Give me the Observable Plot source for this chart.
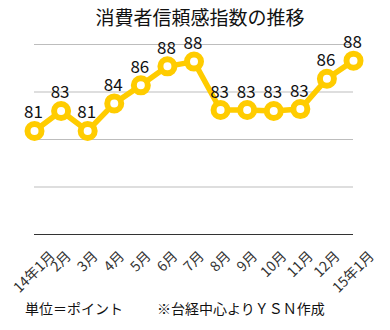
<!DOCTYPE html>
<html>
<head>
<meta charset="utf-8">
<script src="https://cdn.jsdelivr.net/npm/d3@7"></script>
<script src="https://cdn.jsdelivr.net/npm/@observablehq/plot@0.6"></script>
<style>
  body { margin: 0; background: #fff; }
  #wrap { position: relative; width: 390px; height: 330px; overflow: hidden; font-family: "Noto Sans CJK JP", "Noto Sans", sans-serif; }
  #title { height: 34px; line-height: 34px; font-size: 19px; text-align: center; padding-left: 10px; box-sizing: border-box; color: #111; }
  .cap { position: absolute; top: 299px; font-size: 14px; line-height: 18px; color: #111; white-space: nowrap; }
</style>
</head>
<body>
<div id="wrap">
  <div id="title">消費者信頼感指数の推移</div>
  <div id="chart"></div>
  <div class="cap" style="left:25px">単位＝ポイント</div>
  <div class="cap" style="left:157px">※台経中心よりＹＳＮ作成</div>
</div>
<script>
const months = ["14年1月","2月","3月","4月","5月","6月","7月","8月","9月","10月","11月","12月","15年1月"];
const values = [80.9, 83.0, 80.9, 83.8, 85.7, 87.7, 88.2, 83.1, 83.1, 83.0, 83.2, 86.4, 88.3];
const gridValues = [75, 80, 85, 90];
const baseValue = 70;

const data = months.map((m, i) => ({i, month: m, value: values[i], label: d3.format(".0f")(values[i])}));

const fontFamily = '"Noto Sans CJK JP", "Noto Sans", sans-serif';
const tickFont = 14;
const ctx = document.createElement("canvas").getContext("2d");
ctx.font = `${tickFont}px ${fontFamily}`;

// rotated tick labels: centered under each tick, top aligned just below the axis
const tickMarks = data.map(d => {
  const w = ctx.measureText(d.month).width;
  const half = (w + tickFont * 0.9) * Math.SQRT1_2 / 2;
  return Plot.text([d], {
    x: "i", text: "month", frameAnchor: "bottom",
    rotate: -45, textAnchor: "middle", lineAnchor: "middle",
    dy: 15 + half, fontSize: tickFont, fill: "#333", fontFamily
  });
});

const chart = Plot.plot({
  width: 390,
  height: 296,
  marginTop: 10,
  marginBottom: 96,
  marginLeft: 34,
  marginRight: 37,
  x: {domain: [0, 12], axis: null},
  y: {domain: [70, 90], axis: null},
  style: {fontFamily, background: "#fff", overflow: "visible"},
  marks: [
    Plot.ruleY(gridValues, {stroke: "#bdbdbd", strokeWidth: 1}),
    Plot.ruleY([baseValue], {stroke: "#333", strokeWidth: 1}),
    Plot.line(data, {x: "i", y: "value", stroke: "#FFCC00", strokeWidth: 5.5, strokeLinejoin: "round"}),
    Plot.dot(data, {x: "i", y: "value", r: 7, fill: "#fff", stroke: "#FFCC00", strokeWidth: 6}),
    Plot.text(data, {x: "i", y: "value", text: "label", dy: -18, dx: -1, fontSize: 17, fill: "#111", fontFamily}),
    ...tickMarks
  ]
});
document.getElementById("chart").appendChild(chart);
</script>
</body>
</html>
